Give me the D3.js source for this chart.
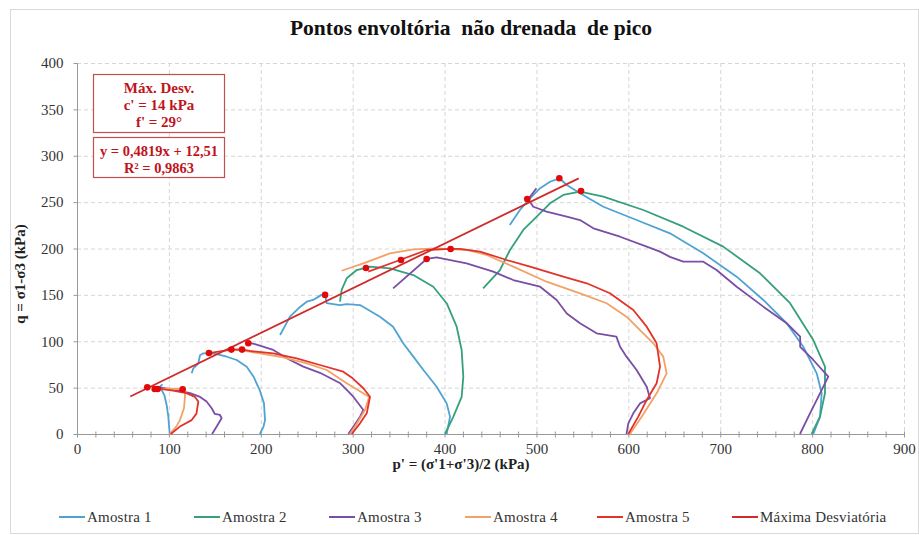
<!DOCTYPE html>
<html>
<head>
<meta charset="utf-8">
<script src="https://cdn.jsdelivr.net/npm/d3@7"></script>
<style>
  body { margin: 0; background: #fff; }
  svg { display: block; }
</style>
</head>
<body>
<div id="chart"></div>
<script>
// stress paths (p', q) in kPa, one list of paths per sample
const amostra1 = [
  [[101,0],[100,10],[99.4,18.7],[97.6,31],[95,42],[90.3,51],[93,53.6]],
  [[199,0],[203,8],[204.6,15],[203.5,33],[199,47],[192,62],[184.7,72.6],[173.8,79.8],[163,83.3],[152,86.2],[143.6,87.3],[137.5,87],[133.9,85],[132,76],[126.6,70.8],[124.8,65.4]],
  [[402.3,0],[406,18.7],[402.3,33],[391.4,51],[377,69],[366,83.4],[355,97.8],[344,115.7],[329.7,126.5],[308,139],[293.5,140],[286,139],[271.7,141],[270,150],[266,150],[257,144.5],[250,142.6],[242.7,137],[231.8,126.5],[221,106.7]],
  [[801.3,0],[808.6,18.7],[810.4,43.9],[805,65.4],[790.4,94.1],[772.3,119.4],[746.9,144.5],[717.9,169.6],[681.6,194.8],[645.3,216.4],[609,230.7],[572.8,245],[547.4,259.5],[533,268.5],[524.9,275.7],[514.8,272],[504,265],[493,254],[482,241.5],[471,225.3]]
];
const amostra2 = [
  [[400.5,0],[409.6,18.7],[418.6,40],[420.4,61.8],[418.6,90.6],[413.2,115.7],[402.3,141],[387.7,158.8],[366,171.4],[340.6,178.6],[318.9,180.4],[304.4,176.8],[293.5,167.9],[288,155.3],[286.2,142.6]],
  [[799.5,0],[808.6,18.7],[814,43.9],[814,72.6],[801.3,101.3],[776,141],[743.3,173.3],[703.3,202],[659.8,223.5],[616.3,241.5],[572.8,256],[547.4,261.3],[529.2,257.7],[514.8,248.7],[500.3,234.3],[485.7,220],[471.2,198.4],[460.3,176.8],[442,157]]
];
const amostra3 = [
  [[147,0],[152,8],[157.4,17],[155.6,20.5],[150,21.6],[146.6,27.7],[141,35],[134,40],[123,44],[108.5,47.4],[90,50.3]],
  [[295.3,0],[300.7,7.9],[308,18.7],[311.6,25.9],[300.7,40.2],[293,48],[286,55],[264.4,66],[246.3,72.6],[231.8,79.8],[213.6,90.6],[193.7,97],[186.4,98.4]],
  [[598,0],[600,11.5],[605.4,22.3],[612.7,33],[623.6,38.5],[620,51],[609,69],[598,83.4],[591,94],[587,105],[565.5,108.6],[547.4,119.4],[533,130],[522,144.5],[504,158.8],[474.8,166],[453,175],[424,184],[391.4,190.5],[380.5,188.7],[344,157]],
  [[786.8,0],[797.7,22.3],[808.6,43.9],[817.6,61.8],[801.3,79.8],[787,94],[787,105],[772.3,119.4],[746.9,137.3],[717.9,158.8],[696,176.8],[681.6,185.8],[659.8,185.8],[645.3,191],[634.5,196.6],[620,202],[591,212.7],[562,221.8],[547.4,230.7],[533,234.3],[511,239.7],[496.6,245],[491,253],[500,265]]
];
const amostra4 = [
  [[101,0],[108,8],[112,15],[116.4,27.7],[117.5,40],[117.5,47.4],[115,48.5],[100,48.8],[88,48.5]],
  [[297,0],[302.5,7.9],[313.4,25.9],[318,40],[311.6,43.9],[293.5,54.7],[271.7,69],[250,76.2],[221,83.3],[188,88.7],[168.3,91.3]],
  [[601.8,0],[614.5,18.7],[630.8,43.9],[641.7,65.4],[638,83.4],[627.2,97.8],[612.7,112],[598,126.5],[576.4,141],[547.4,151.7],[511,164.2],[474.8,180.4],[445.8,193],[424,198.4],[391.4,200.2],[366,199],[340.6,194.8],[311.6,184],[288,176]]
];
const amostra5 = [
  [[102,0],[112,8],[124.8,15],[130,22],[132,35],[128.4,40],[119,44],[104.6,46.7],[86.7,49.2]],
  [[299,0],[308,11.5],[315.3,22.3],[318.9,40.2],[311.6,49.3],[300,60],[289.8,67.2],[264.4,74.4],[239,81.6],[213.6,87],[188,89.5],[179,91.3],[168,91],[143.6,87.3]],
  [[600,0],[610.8,18.7],[620,36.7],[630.8,54.7],[634.5,72.6],[630.8,97.8],[620,115.7],[605.4,133.7],[580,151.7],[554.7,162.5],[529.2,169.6],[493,180.4],[467.6,187.6],[438.6,196.6],[416.8,199.5],[406.6,199.5],[380.5,198.4],[351.5,187.6],[317,175]]
];
// peak points (Máxima Desviatória)
const peaks = [[76.5,50.3],[84.5,48.5],[87.8,48.5],[115,48.2],[143.6,87.3],[168,91],[179.6,91],[186.4,97.8],
  [270,150],[314.5,179],[352.6,187.6],[380.5,188.7],[406.6,199.5],[490,253.4],[524.9,275.7],[548.5,262]];
// linear trend of the peaks: q = a p + b
const trendA = 0.4819, trendB = 12.51;
const trendRange = [58, 546];

const seriesNames = ["Amostra 1", "Amostra 2", "Amostra 3", "Amostra 4", "Amostra 5", "Máxima Desviatória"];
const seriesColors = ["#4fa3d3", "#35a07a", "#7a4ea6", "#f2a266", "#e2332b", "#d12a2a"];
const xTicks = d3.range(0, 901, 100);
const yTicks = d3.range(0, 401, 50);

const width = 919, height = 535;
const plot = { left: 77, right: 904, top: 63, bottom: 434 };
const serif = "'Liberation Serif', 'Times New Roman', serif";

const svg = d3.select("#chart").append("svg")
  .attr("width", width).attr("height", height)
  .style("font-family", serif);

// outer frame
svg.append("rect")
  .attr("x", 10.5).attr("y", 9.5)
  .attr("width", width - 11).attr("height", height - 11)
  .attr("fill", "#fff").attr("stroke", "#d9d9d9");

const xScale = d3.scaleLinear().domain([0, 900]).range([plot.left, plot.right]);
const yScale = d3.scaleLinear().domain([0, 400]).range([plot.bottom, plot.top]);

// grid
svg.append("g").selectAll("line").data(xTicks.slice(1)).enter().append("line")
  .attr("x1", (d) => xScale(d) + 0.5).attr("x2", (d) => xScale(d) + 0.5)
  .attr("y1", plot.top).attr("y2", plot.bottom)
  .attr("stroke", "#d6d6d6").attr("stroke-dasharray", "4,3");
svg.append("g").selectAll("line").data(yTicks.slice(1)).enter().append("line")
  .attr("x1", plot.left).attr("x2", plot.right)
  .attr("y1", (d) => yScale(d) + 0.5).attr("y2", (d) => yScale(d) + 0.5)
  .attr("stroke", "#d6d6d6").attr("stroke-dasharray", "4,3");

// axes
const xAxis = svg.append("g")
  .attr("transform", "translate(0," + (plot.bottom + 0.5) + ")")
  .call(d3.axisBottom(xScale).tickValues(d3.range(0, 901, 20)).tickSize(4)
    .tickFormat((d) => (d % 100 === 0 ? d : "")));
xAxis.selectAll(".tick line").attr("y1", -3).attr("y2", 3).attr("stroke", "#999");
xAxis.selectAll("path").attr("stroke", "#999").attr("d", "M" + plot.left + ",0H" + plot.right);
xAxis.selectAll(".tick text").attr("font-size", 15).attr("font-family", serif)
  .attr("fill", "#333").attr("y", 9);

const yAxis = svg.append("g")
  .attr("transform", "translate(" + (plot.left + 0.5) + ",0)")
  .call(d3.axisLeft(yScale).tickValues(yTicks).tickSize(4));
yAxis.selectAll("path").attr("stroke", "#999").attr("d", "M0," + plot.bottom + "V" + plot.top);
yAxis.selectAll(".tick line").attr("stroke", "#999");
yAxis.selectAll(".tick text").attr("font-size", 15).attr("font-family", serif)
  .attr("fill", "#333").attr("x", -14);

// axis titles and chart title
svg.append("text").text("Pontos envoltória  não drenada  de pico")
  .attr("x", 471).attr("y", 35).attr("text-anchor", "middle")
  .attr("font-size", 21.5).attr("font-weight", "bold").attr("fill", "#111")
  .attr("xml:space", "preserve").style("white-space", "pre");
svg.append("text").text("p' = (σ'1+σ'3)/2 (kPa)")
  .attr("x", 461).attr("y", 469).attr("text-anchor", "middle")
  .attr("font-size", 15).attr("font-weight", "bold").attr("fill", "#222");
svg.append("text").text("q = σ1-σ3 (kPa)")
  .attr("transform", "translate(25,274) rotate(-90)").attr("text-anchor", "middle")
  .attr("font-size", 15).attr("font-weight", "bold").attr("fill", "#222");

// stress paths
const line = d3.line().x((d) => xScale(d[0])).y((d) => yScale(d[1]));
const groups = [amostra1, amostra2, amostra3, amostra4, amostra5];
groups.forEach((paths, i) => {
  svg.append("g").attr("id", "amostra-" + (i + 1))
    .selectAll("path").data(paths).enter().append("path")
    .attr("d", line)
    .attr("fill", "none")
    .attr("stroke", seriesColors[i])
    .attr("stroke-width", 1.8)
    .attr("stroke-linejoin", "round");
});

// trend line
svg.append("path")
  .attr("d", line(trendRange.map((p) => [p, trendA * p + trendB])))
  .attr("stroke", seriesColors[5]).attr("stroke-width", 1.8).attr("fill", "none");

// peak markers
svg.append("g").selectAll("circle").data(peaks).enter().append("circle")
  .attr("cx", (d) => xScale(d[0])).attr("cy", (d) => yScale(d[1]))
  .attr("r", 3.3).attr("fill", "#e00a0a");

// annotation boxes
const boxColor = "#c0504d", textRed = "#c0141c";
const box1 = ["Máx. Desv.", "c' = 14 kPa", "f' = 29°"];
const box2 = ["y = 0,4819x + 12,51", "R² = 0,9863"];
svg.append("rect").attr("x", 93.5).attr("y", 74.5).attr("width", 131).attr("height", 58)
  .attr("fill", "#fff").attr("stroke", boxColor).attr("stroke-width", 1.2);
svg.append("rect").attr("x", 93.5).attr("y", 137.5).attr("width", 131).attr("height", 40)
  .attr("fill", "#fff").attr("stroke", boxColor).attr("stroke-width", 1.2);
svg.append("g").selectAll("text").data(box1).enter().append("text")
  .text((d) => d).attr("x", 159).attr("y", (d, i) => 93 + i * 17)
  .attr("text-anchor", "middle").attr("font-size", 15).attr("font-weight", "bold").attr("fill", textRed);
svg.append("g").selectAll("text").data(box2).enter().append("text")
  .text((d) => d).attr("x", 159).attr("y", (d, i) => 156 + i * 16.5)
  .attr("text-anchor", "middle").attr("font-size", 14.5).attr("font-weight", "bold").attr("fill", textRed);

// legend
const legendX = [59, 194, 329, 465, 597, 732];
const legend = svg.append("g").selectAll("g").data(seriesNames).enter().append("g")
  .attr("transform", (d, i) => "translate(" + legendX[i] + ",517)");
legend.append("line").attr("x1", 0).attr("x2", 26).attr("y1", 0).attr("y2", 0)
  .attr("stroke", (d, i) => seriesColors[i]).attr("stroke-width", 2);
legend.append("text").text((d) => d).attr("x", 28).attr("y", 5)
  .attr("font-size", 15).attr("fill", "#333").attr("letter-spacing", 0.2);
</script>
</body>
</html>
